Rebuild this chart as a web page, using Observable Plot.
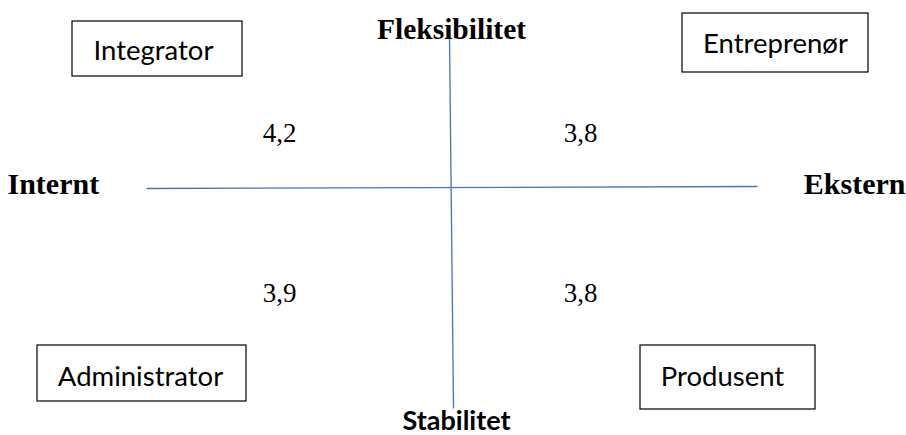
<!DOCTYPE html>
<html>
<head>
<meta charset="utf-8">
<script src="https://cdn.jsdelivr.net/npm/d3@7"></script>
<script src="https://cdn.jsdelivr.net/npm/@observablehq/plot@0.6"></script>
<style>
  html, body { margin: 0; padding: 0; background: #fff; }
  #chart svg { display: block; }
</style>
</head>
<body>
<div id="chart"></div>
<script>
// ---- data ----
const quadrantNames = ["Integrator", "Entreprenør", "Administrator", "Produsent"];
const quadrantScores = [4.2, 3.8, 3.9, 3.8];
const axisNames = ["Fleksibilitet", "Stabilitet", "Internt", "Ekstern"];

// ---- layout (pixel space of the 906x435 canvas) ----
const boxLayout = [
  {x1: 72,  x2: 242, y1: 21,  y2: 76,  tx: 153, ty: 59},
  {x1: 682, x2: 868, y1: 13,  y2: 72,  tx: 775, ty: 52},
  {x1: 37,  x2: 246, y1: 345, y2: 401, tx: 140, ty: 385},
  {x1: 640, x2: 815, y1: 345, y2: 409, tx: 722, ty: 385}
];
const scoreLayout = [
  {x: 279, y: 141}, {x: 580, y: 141}, {x: 279, y: 301}, {x: 580, y: 301}
];
const axisLabelLayout = [
  {x: 451, y: 38,  anchor: "middle", family: "Liberation Serif", weight: "bold", size: 29.5},
  {x: 456, y: 429, anchor: "middle", family: "Lato", weight: "bold", size: 27},
  {x: 7,   y: 193, anchor: "start",  family: "Liberation Serif", weight: "bold", size: 30},
  {x: 905, y: 193, anchor: "end",    family: "Liberation Serif", weight: "bold", size: 30}
];
const axisLines = [
  {x1: 449, y1: 36,  x2: 453, y2: 408},
  {x1: 146, y1: 188, x2: 757, y2: 186}
];

const boxes = quadrantNames.map((name, i) => ({name, ...boxLayout[i]}));
const scores = quadrantScores.map((v, i) => ({label: v.toFixed(1).replace(".", ","), ...scoreLayout[i]}));
const axisLabels = axisNames.map((name, i) => ({name, ...axisLabelLayout[i]}));

const labelMarks = axisLabels.map(d => Plot.text([d], {
  x: "x", y: "y", text: "name",
  textAnchor: d.anchor, lineAnchor: "bottom",
  fontFamily: d.family, fontWeight: d.weight, fontSize: d.size, fill: "#000"
}));

const chart = Plot.plot({
  width: 906,
  height: 435,
  margin: 0,
  x: {domain: [0, 906], range: [0, 906], axis: null},
  y: {domain: [0, 435], range: [0, 435], axis: null},
  marks: [
    Plot.link(axisLines, {x1: "x1", y1: "y1", x2: "x2", y2: "y2", stroke: "#4472C4", strokeWidth: 1.3}),
    Plot.rect(boxes, {x1: "x1", x2: "x2", y1: "y1", y2: "y2", fill: "#fff", stroke: "#000", strokeWidth: 1.2}),
    Plot.text(boxes, {x: "tx", y: "ty", text: "name", lineAnchor: "bottom",
      fontFamily: "Lato", fontSize: 27.5, fill: "#000"}),
    Plot.text(scores, {x: "x", y: "y", text: "label", lineAnchor: "bottom",
      fontFamily: "Liberation Serif", fontSize: 27, fill: "#000"}),
    ...labelMarks
  ]
});
document.getElementById("chart").appendChild(chart);
</script>
</body>
</html>
